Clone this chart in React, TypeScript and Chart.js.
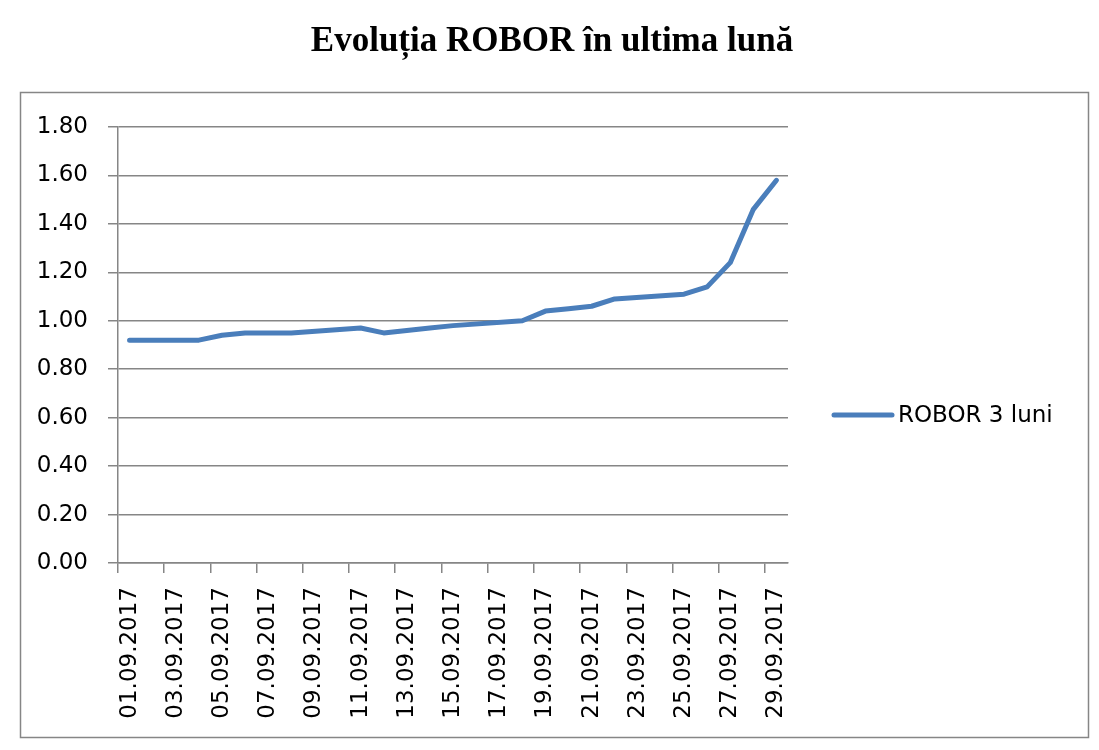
import { useEffect, useRef } from "react";
import { Chart, registerables } from "chart.js";
Chart.register(...registerables);

// zilele din septembrie 2017 (axa X)
const days = [
  "01.09.2017", "02.09.2017", "03.09.2017", "04.09.2017", "05.09.2017",
  "06.09.2017", "07.09.2017", "08.09.2017", "09.09.2017", "10.09.2017",
  "11.09.2017", "12.09.2017", "13.09.2017", "14.09.2017", "15.09.2017",
  "16.09.2017", "17.09.2017", "18.09.2017", "19.09.2017", "20.09.2017",
  "21.09.2017", "22.09.2017", "23.09.2017", "24.09.2017", "25.09.2017",
  "26.09.2017", "27.09.2017", "28.09.2017", "29.09.2017",
];

// ROBOR 3 luni, null = weekend (fara fixing)
const robor3m = [
  0.92, null, null, 0.92, 0.94,
  0.95, 0.95, 0.95, null, null,
  0.97, 0.95, 0.96, 0.97, 0.98,
  null, null, 1.0, 1.04, 1.05,
  1.06, 1.09, null, null, 1.11,
  1.14, 1.24, 1.46, 1.58,
];

const seriesLabel = "ROBOR 3 luni";
const chartTitle = "Evoluția ROBOR în ultima lună";
const yTicks = [0, 0.2, 0.4, 0.6, 0.8, 1.0, 1.2, 1.4, 1.6, 1.8];

const lineColor = "#4A7EBB";
const gridColor = "#868686";
const tickFont = { family: "DejaVu Sans", size: 23 };

// chenarul exterior + titlul centrat pe toata latimea
const frame = {
  id: "frame",
  beforeDraw(chart: any) {
    const ctx = chart.ctx;
    ctx.save();
    ctx.strokeStyle = gridColor;
    ctx.lineWidth = 1.5;
    ctx.strokeRect(20.5, 92.5, 1068, 645);
    ctx.fillStyle = "#000";
    ctx.font = "bold 35px 'Liberation Serif'";
    ctx.textAlign = "center";
    ctx.textBaseline = "alphabetic";
    ctx.fillText(chartTitle, 552, 51);
    ctx.restore();
  },
};

// legenda in dreapta, ca in Excel
const sideLegend = {
  id: "sideLegend",
  afterDraw(chart: any) {
    const ctx = chart.ctx;
    const y = 415;
    ctx.save();
    ctx.strokeStyle = lineColor;
    ctx.lineWidth = 5;
    ctx.lineCap = "round";
    ctx.beginPath();
    ctx.moveTo(834, y);
    ctx.lineTo(892, y);
    ctx.stroke();
    ctx.fillStyle = "#000";
    ctx.font = "23px 'DejaVu Sans'";
    ctx.textAlign = "left";
    ctx.textBaseline = "middle";
    ctx.fillText(chart.data.datasets[0].label, 898, y + 1);
    ctx.restore();
  },
};

const RoborChart = () => {
  const chartRef = useRef<HTMLCanvasElement | null>(null);
  const chartInstance = useRef<Chart | null>(null);

  useEffect(() => {
    if (!chartRef.current) return;
    const ctx = chartRef.current.getContext("2d");
    if (!ctx) return;

    if (chartInstance.current) chartInstance.current.destroy();

    chartInstance.current = new Chart(ctx, {
      type: "line",
      data: {
        labels: days,
        datasets: [
          {
            label: seriesLabel,
            data: robor3m,
            borderColor: lineColor,
            backgroundColor: lineColor,
            borderWidth: 5,
            borderJoinStyle: "round",
            borderCapStyle: "round",
            pointRadius: 0,
            tension: 0,
            spanGaps: true,
          },
        ],
      },
      options: {
        animation: false,
        responsive: true,
        maintainAspectRatio: false,
        layout: { padding: { left: 0, right: 311, top: 127, bottom: 0 } },
        plugins: {
          legend: { display: false },
          tooltip: { enabled: false },
          title: { display: false },
        },
        scales: {
          x: {
            type: "category",
            offset: true,
            grid: {
              offset: true,
              drawOnChartArea: false,
              drawTicks: true,
              tickLength: 10,
              lineWidth: 1.5,
              color: (c: any) => (c.index !== undefined && c.index % 2 === 0 ? gridColor : "rgba(0,0,0,0)"),
            },
            border: { display: true, color: gridColor, width: 1.5 },
            ticks: {
              autoSkip: false,
              minRotation: 90,
              maxRotation: 90,
              padding: 14,
              color: "#000",
              font: tickFont,
              callback: (_v: any, i: number) => (i % 2 === 0 ? days[i] : ""),
            },
            afterFit: (scale: any) => {
              scale.height = 187;
            },
          },
          y: {
            min: 0,
            max: 1.8,
            afterBuildTicks: (scale: any) => {
              scale.ticks = yTicks.map((v) => ({ value: v }));
            },
            grid: {
              color: gridColor,
              lineWidth: 1.5,
              tickLength: 10,
            },
            border: { display: true, color: gridColor, width: 1.5 },
            ticks: {
              padding: 20,
              color: "#000",
              font: tickFont,
              callback: (v: any) => Number(v).toFixed(2),
            },
            afterFit: (scale: any) => {
              scale.width = 118;
            },
          },
        },
      },
      plugins: [frame, sideLegend],
    });

    return () => {
      if (chartInstance.current) {
        chartInstance.current.destroy();
        chartInstance.current = null;
      }
    };
  }, []);

  return <canvas ref={chartRef}></canvas>;
};

export default function App() {
  return (
    <div style={{ position: "absolute", left: 0, top: 0, width: 1099, height: 750, background: "#fff" }}>
      <RoborChart />
    </div>
  );
}
